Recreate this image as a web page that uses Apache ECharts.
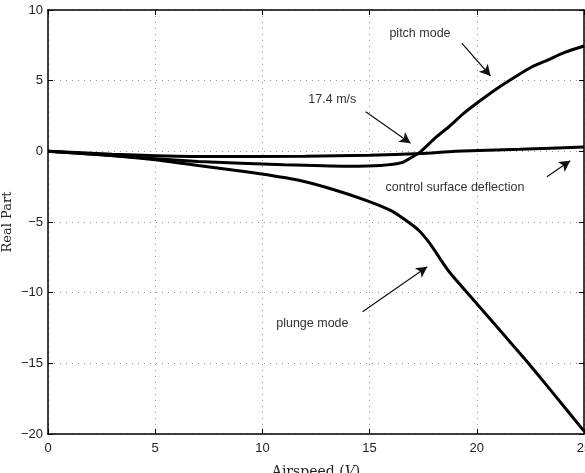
<!DOCTYPE html>
<html>
<head>
<meta charset="utf-8">
<script src="https://cdn.jsdelivr.net/npm/echarts@6/dist/echarts.min.js"></script>
<style>
  html, body { margin: 0; padding: 0; background: #fff; }
  #chart { width: 585px; height: 473px; }
</style>
</head>
<body>
<div id="chart"></div>
<script>
// curves (airspeed, real part)
var pitchX = [0, 3, 7, 11, 14, 15.5, 16.5, 17.1, 17.4, 18.1, 18.7, 19.4, 20.2, 21, 21.8, 22.6, 23.3, 24.1, 25];
var pitchY = [0, -0.3, -0.72, -0.95, -1.05, -1.0, -0.8, -0.3, 0, 1.0, 1.74, 2.7, 3.63, 4.5, 5.28, 6.0, 6.46, 7.0, 7.45];
var ctrlX = [0, 3, 7, 12, 15, 17.4, 19, 22, 25];
var ctrlY = [0, -0.2, -0.36, -0.35, -0.28, -0.15, 0, 0.15, 0.3];
var plungeX = [0, 2.5, 5, 7, 9.5, 11.7, 13.3, 14.8, 16, 16.8, 17.3, 17.8, 18.7, 19.9, 21.1, 22.3, 23.5, 25];
var plungeY = [0, -0.25, -0.6, -1.0, -1.5, -2.05, -2.7, -3.45, -4.2, -5.0, -5.6, -6.5, -8.5, -10.6, -12.7, -14.8, -17, -19.8];

var xTicks = [0, 5, 10, 15, 20, 25];
var yTicks = [-20, -15, -10, -5, 0, 5, 10];

// annotations: text centre and arrow start/end in data units
var noteText = ['pitch mode', '17.4 m/s', 'control surface deflection', 'plunge mode'];
var notePos = [[17.35, 8.3], [13.26, 3.63], [18.98, -2.55], [12.33, -12.17]];
var arrowFrom = [[19.3, 7.66], [14.82, 2.8], [23.27, -1.8], [14.67, -11.35]];
var arrowTo = [[20.64, 5.33], [16.91, 0.57], [24.36, -0.67], [17.69, -8.17]];

function zip(a, b) { return a.map(function (v, i) { return [v, b[i]]; }); }
function minus(v) { return String(v).replace('-', '\u2212'); }

var chart = echarts.init(document.getElementById('chart'));
var lineStyle = { color: '#000', width: 3 };
var axisLine = { show: true, onZero: false, lineStyle: { color: '#000', width: 1.5 } };
var tick = { show: true, inside: true, length: 5, lineStyle: { color: '#000', width: 1 } };
var dotted = { show: true, lineStyle: { color: '#999', width: 1, type: [1, 5] } };

chart.setOption({
  animation: false,
  grid: { left: 48, right: 1, top: 10, bottom: 39, outerBoundsMode: 'none', containLabel: false },
  xAxis: [{
    type: 'value', min: xTicks[0], max: xTicks[xTicks.length - 1], interval: 5,
    axisLine: axisLine, axisTick: tick, splitLine: dotted,
    axisLabel: { color: '#222', fontSize: 13, fontFamily: 'Liberation Sans', margin: 8 },
    name: 'Airspeed ({i|V})', nameLocation: 'middle', nameGap: 31,
    nameTextStyle: {
      color: '#222', fontSize: 14, fontFamily: 'DejaVu Serif',
      rich: { i: { fontStyle: 'italic', fontSize: 14, fontFamily: 'DejaVu Serif', color: '#222' } }
    }
  }, {
    type: 'value', position: 'top', min: xTicks[0], max: xTicks[xTicks.length - 1], interval: 5,
    axisLine: axisLine, axisTick: tick, splitLine: { show: false }, axisLabel: { show: false }
  }],
  yAxis: [{
    type: 'value', min: yTicks[0], max: yTicks[yTicks.length - 1], interval: 5,
    axisLine: axisLine, axisTick: tick, splitLine: dotted,
    axisLabel: { color: '#222', fontSize: 13, fontFamily: 'Liberation Sans', margin: 5, formatter: minus },
    name: 'Real Part', nameLocation: 'middle', nameGap: 34, nameRotate: 90, nameMoveOverlap: false,
    nameTextStyle: { color: '#222', fontSize: 13, fontFamily: 'DejaVu Serif' }
  }, {
    type: 'value', position: 'right', min: yTicks[0], max: yTicks[yTicks.length - 1], interval: 5,
    axisLine: axisLine, axisTick: tick, splitLine: { show: false }, axisLabel: { show: false }
  }],
  series: [{
    type: 'line', data: zip(plungeX, plungeY), showSymbol: false, smooth: 0.2, lineStyle: lineStyle,
    markLine: {
      silent: true, symbol: ['none', 'arrow'], symbolSize: [9, 11],
      lineStyle: { color: '#111', width: 1.2, type: 'solid' }, label: { show: false },
      data: arrowFrom.map(function (p, i) { return [{ coord: p }, { coord: arrowTo[i] }]; })
    },
    markPoint: {
      silent: true, symbol: 'circle', symbolSize: 0,
      label: { show: true, position: 'inside', color: '#333', fontSize: 12.5, fontFamily: 'Liberation Sans' },
      data: notePos.map(function (p, i) { return { coord: p, label: { formatter: noteText[i] } }; })
    }
  }, {
    type: 'line', data: zip(pitchX, pitchY), showSymbol: false, smooth: 0.2, lineStyle: lineStyle
  }, {
    type: 'line', data: zip(ctrlX, ctrlY), showSymbol: false, smooth: 0.2, lineStyle: lineStyle
  }]
});
</script>
</body>
</html>
